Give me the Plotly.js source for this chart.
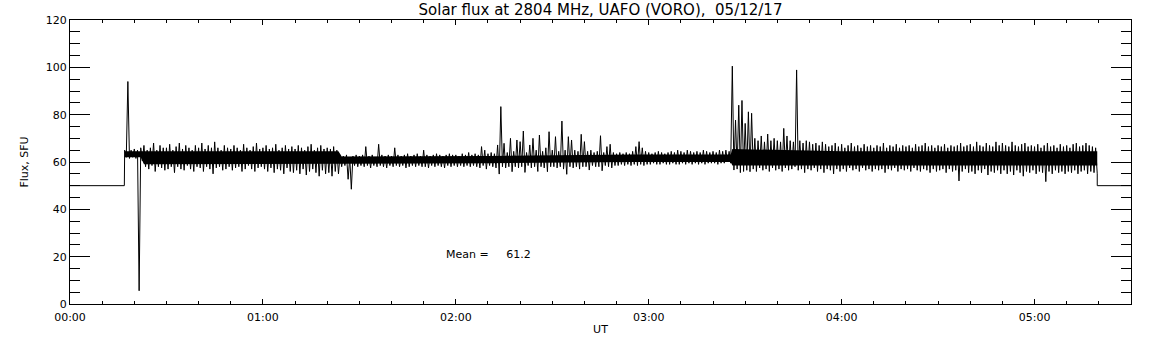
<!DOCTYPE html>
<html>
<head>
<meta charset="utf-8">
<script src="https://cdn.plot.ly/plotly-3.0.1.min.js"></script>
<style>
  html, body { margin: 0; padding: 0; background: #ffffff; }
  #chart { width: 1152px; height: 345px; }
</style>
</head>
<body>
<div id="chart"></div>
<script>
// ---- Data (time in minutes after 00:00 UT, flux in SFU) ----
const chartTitle = "Solar flux at 2804 MHz, UAFO (VORO),  05/12/17";
const xTickVals = [0, 60, 120, 180, 240, 300];
const xTickText = ["00:00", "01:00", "02:00", "03:00", "04:00", "05:00"];
const meanFlux = 61.2;

// flat "no data" level before and after the observing run
const baseFlux = 50;
const startT = 0;
const stepOnT = 16.9;
const stepOffT = 319.5;
const endT = 330;

// dense (solid) core of the noise band, read at a few times
const coreT  = [17, 22, 23, 83.5, 84.5, 130, 175, 205.5, 206, 240, 319.5];
const coreHi = [64.5, 64.5, 64.5, 64.5, 62.3, 62.5, 63.2, 63.2, 65.5, 64.5, 64.5];
const coreLo = [62, 62, 59, 59, 59.3, 59.5, 60, 60, 58.5, 58.5, 58.5];

// per-minute maxima / minima of the recorded signal, minutes 17 .. 319
const firstMinute = 17;
const fluxHigh = [
  65, 94, 65,
  65.5, 65, 66, 67, 65, 66, 68, 65, 67, 66,
  66, 67.5, 65, 66.5, 68, 65.5, 67, 66, 65, 67,
  66, 68, 65.5, 67, 66, 68.5, 66, 65, 67, 66,
  65.5, 67, 66, 65, 67.5, 66, 65, 66.5, 68, 65.5,
  66, 67, 65.5, 66, 67.5, 65, 66, 67, 65.5, 66.5,
  65.5, 67, 66, 65, 66.5, 67.5, 65, 66, 67, 65.5,
  66, 65.5, 66.5, 65, 63, 62.5, 63, 62, 62.5, 63,
  62.5, 63, 66.5, 62.5, 63, 62, 67.5, 63, 62.5, 63,
  62.5, 66, 63, 62.5, 63, 63.5, 62.5, 63, 63.5, 62.5,
  65, 63, 62.5, 63, 63.5, 63, 62.5, 63, 63.5, 63,
  63, 62.5, 63.5, 63, 64, 63, 63.5, 63, 66.5, 65,
  63.5, 64, 63.5, 67.2, 83.4, 67.9, 64, 70, 64.5, 69.3,
  68.6, 73.1, 64, 67.2, 70, 65, 71.4, 64.5, 66, 72.8,
  65, 70.7, 64.5, 77.3, 65, 70.7, 69.3, 65, 64.5, 71.7,
  68.6, 64.5, 65, 64, 64.5, 71.1, 64, 66.5, 67.5, 64,
  63.5, 64, 63.5, 64, 63.5, 64.5, 66.5, 68.6, 66, 64.5,
  64, 63.5, 64, 64.5, 64, 63.5, 64, 64.5, 64, 65,
  64.5, 64, 65, 64.5, 64, 64.5, 64, 65, 64.5, 64,
  64.5, 64, 65, 64.5, 65, 64.5, 100.5, 77.7, 84, 86,
  76.3, 81.2, 80.6, 70, 69, 71, 68.5, 71.8, 69, 70,
  69, 68.5, 74.2, 71, 69, 68.5, 98.9, 69, 68, 69,
  68.5, 67.5, 68, 67, 68.5, 67.5, 66.5, 67, 68, 66.5,
  67.5, 66, 67, 68, 66.5, 67, 66, 67.5, 66.5, 67,
  66, 67, 66.5, 68, 66, 67, 66.5, 67.5, 66, 67,
  66.5, 67, 66, 67.5, 66.5, 67, 68, 66.5, 67, 66,
  67, 66.5, 67.5, 66, 67, 66.5, 67, 68, 66.5, 67,
  67.5, 66.5, 68.5, 67, 66.5, 68, 67, 66.5, 68.5, 67,
  68, 67, 66.5, 68.5, 67, 66.5, 67.5, 68, 66.5, 67,
  66.5, 67.5, 66, 67, 68, 66.5, 67, 66, 67.5, 66.5,
  67, 66, 67.5, 68, 66.5, 67, 68, 67, 66.5, 66
];
const fluxLow = [
  62, 61.5, 62,
  61.5, 5.6, 60.5, 58, 57, 58.5, 56, 58, 57.5, 56.5,
  57, 58, 55.5, 58, 57, 56.5, 58.5, 57, 56, 58,
  57.5, 56, 58, 57, 55, 57.5, 58, 56.5, 57, 58,
  56.5, 57.5, 58, 56, 57, 58.5, 57, 56, 57.5, 58,
  57, 56, 57.5, 55.5, 57, 56.5, 55, 57.5, 56, 55.5,
  56.5, 55, 57, 54.5, 56, 57, 55.5, 54, 56.5, 55,
  55.5, 54, 56, 55, 58, 58.5, 52.7, 48.5, 58.5, 58,
  58.5, 58, 58.5, 57.5, 58.5, 58, 58.5, 58, 57.5, 58.5,
  58, 58.5, 58, 58.5, 57.5, 58, 58.5, 58, 58.5, 58,
  58, 57.5, 58.5, 58, 58.5, 58, 57.5, 58.5, 58, 58.5,
  58, 58.5, 58, 58.5, 58, 58.5, 58, 57.5, 58.5, 57,
  58.5, 58, 57.5, 54.9, 58, 57.5, 58, 55.9, 58, 57.5,
  58, 55.6, 58.5, 57.5, 58, 56, 58, 57.5, 55.9, 58,
  58, 57.5, 58, 57, 54.8, 58, 57.5, 58, 57, 58,
  58, 56.6, 58.5, 58, 58, 56.3, 58.5, 58, 57.5, 58.5,
  58.5, 59, 58.5, 59, 58.5, 59, 58.5, 59, 58.5, 59,
  59, 59.5, 59, 59, 59.5, 59, 59, 59.5, 59, 59,
  59.5, 59, 59.5, 59, 59.5, 59, 59.5, 59, 59.5, 59.5,
  59.5, 59, 59.5, 59.5, 60, 59.5, 56.6, 57, 55.5, 56,
  56.5, 55.9, 57, 56, 57.5, 56.5, 57, 56, 57.5, 56.5,
  57, 56, 57.5, 56.5, 57, 58, 56.5, 57, 55.5, 57,
  56.5, 57.5, 56, 57, 55.5, 57, 56.5, 55, 57, 56,
  57, 56, 57.5, 56.5, 57, 56, 57.5, 56.5, 57, 56,
  57, 56.5, 57, 55.5, 57, 56.5, 57.5, 56, 57, 56.5,
  57, 56, 57.5, 56.5, 56, 57, 56.5, 55.5, 57, 56,
  56.5, 57, 55.5, 57, 56, 56.5, 52, 56, 57, 55.5,
  56, 55, 56.5, 55.5, 57, 54.5, 56, 55.5, 56.5, 55,
  56.5, 55, 56, 54.5, 56.5, 55.5, 54, 56, 55.5, 56.5,
  55, 56, 55.5, 51.7, 56, 55, 56.5, 55.5, 56, 55,
  56, 55.5, 56.5, 55, 56, 56.5, 55, 56, 55.5, 55
];

// ---- Build the trace: each minute's max then min, so the line traces the noise band ----
const tx = [startT, stepOnT];
const fy = [baseFlux, baseFlux];
for (let i = 0; i < fluxHigh.length; i++) {
  const t = firstMinute + i;
  tx.push(t);       fy.push(fluxHigh[i]);
  tx.push(t + 0.5); fy.push(fluxLow[i]);
}
tx.push(stepOffT, endT);
fy.push(baseFlux, baseFlux);

const font = "DejaVu Sans, Liberation Sans, sans-serif";

const coreLower = {
  x: coreT, y: coreLo, type: "scatter", mode: "lines",
  line: { color: "#000000", width: 0 }, hoverinfo: "skip", showlegend: false
};
const coreUpper = {
  x: coreT, y: coreHi, type: "scatter", mode: "lines",
  line: { color: "#000000", width: 0 }, fill: "tonexty", fillcolor: "#000000",
  hoverinfo: "skip", showlegend: false
};
const trace = {
  x: tx, y: fy, type: "scatter", mode: "lines",
  line: { color: "#000000", width: 1, simplify: false },
  hoverinfo: "skip", showlegend: false
};

const layout = {
  width: 1152, height: 345,
  margin: { l: 70, r: 21, t: 20, b: 41, pad: 0 },
  paper_bgcolor: "#ffffff", plot_bgcolor: "#ffffff",
  font: { family: font, size: 11, color: "#000000" },
  showlegend: false,
  title: {
    text: chartTitle,
    font: { family: font, size: 15, color: "#000000" },
    x: 0.5, xanchor: "center", xref: "paper",
    y: 0.972, yanchor: "middle", yref: "container"
  },
  xaxis: {
    range: [startT, endT],
    tickmode: "array", tickvals: xTickVals, ticktext: xTickText,
    ticks: "inside", ticklen: 5, tickwidth: 1, tickcolor: "#000000",
    ticklabelstandoff: 3,
    minor: { tickmode: "linear", tick0: 0, dtick: 10, ticks: "inside", ticklen: 3, tickwidth: 1, tickcolor: "#000000", showgrid: false },
    showgrid: false, zeroline: false,
    showline: true, linecolor: "#000000", linewidth: 1, mirror: "ticks",
    tickfont: { family: font, size: 11, color: "#000000" },
    title: { text: "UT", font: { family: font, size: 11, color: "#000000" }, standoff: 2 }
  },
  yaxis: {
    range: [0, 120],
    tickmode: "linear", tick0: 0, dtick: 20,
    ticks: "inside", ticklen: 20, tickwidth: 1, tickcolor: "#000000",
    minor: { tickmode: "linear", tick0: 0, dtick: 5, ticks: "inside", ticklen: 10, tickwidth: 1, tickcolor: "#000000", showgrid: false },
    showgrid: false, zeroline: false,
    showline: true, linecolor: "#000000", linewidth: 1, mirror: "ticks",
    tickfont: { family: font, size: 11, color: "#000000" },
    title: { text: "Flux, SFU", font: { family: font, size: 11, color: "#000000" }, standoff: 14 }
  },
  annotations: [{
    x: 116.4, y: 21, xref: "x", yref: "y",
    xanchor: "left", yanchor: "middle", showarrow: false,
    text: "Mean =\u00a0\u00a0\u00a0\u00a0\u00a0" + meanFlux.toFixed(1),
    font: { family: font, size: 11, color: "#000000" }
  }]
};

Plotly.newPlot("chart", [coreLower, coreUpper, trace], layout, { displayModeBar: false, staticPlot: true });
</script>
</body>
</html>
